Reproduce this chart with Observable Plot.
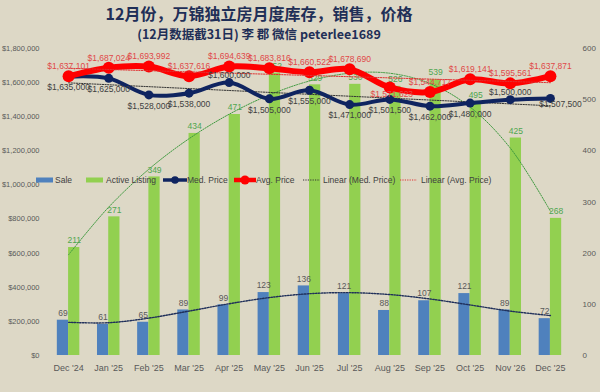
<!DOCTYPE html>
<html>
<head>
<meta charset="utf-8">
<script src="https://cdn.jsdelivr.net/npm/d3@7"></script>
<script src="https://cdn.jsdelivr.net/npm/@observablehq/plot@0.6"></script>
<style>
html,body{margin:0;padding:0;background:#ddd8c6;}
#wrap{position:relative;width:600px;height:392px;overflow:hidden;font-family:"Liberation Sans Narrow","Liberation Sans",Arial,sans-serif;}
#title{position:absolute;left:0;width:518px;top:4px;text-align:center;font-family:"Noto Sans CJK SC",sans-serif;font-weight:bold;font-size:16px;line-height:18px;color:#1f2f57;}
#subtitle{position:absolute;left:0;width:518px;top:27px;text-align:center;font-family:"Noto Sans CJK SC",sans-serif;font-weight:bold;font-size:12.5px;line-height:14px;color:#1f2f57;}
#chart{position:absolute;left:0;top:42px;}
#legend{position:absolute;left:0;top:173px;width:600px;height:14px;font-size:8.5px;color:#404040;}
#legend svg,#legend span{position:absolute;top:0;}
#legend span{line-height:14px;white-space:nowrap;}
</style>
</head>
<body>
<div id="wrap">
  <div id="title">12月份，万锦独立房月度库存，销售，价格</div>
  <div id="subtitle">(12月数据截31日) 李 郡 微信 peterlee1689</div>
  <div id="chart"></div>
  <div id="legend">
    <svg style="left:36px" width="17" height="14"><rect x="0" y="4.5" width="17" height="5" fill="#4f81bd"/></svg>
    <span style="left:55px">Sale</span>
    <svg style="left:86px" width="17" height="14"><rect x="0" y="4.5" width="17" height="5" fill="#92d050"/></svg>
    <span style="left:106px">Active Listing</span>
    <svg style="left:163px" width="24" height="14"><line x1="0" x2="24" y1="7" y2="7" stroke="#0f2460" stroke-width="3.5"/><circle cx="12" cy="7" r="3.8" fill="#0f2460"/></svg>
    <span style="left:187px">Med. Price</span>
    <svg style="left:234px" width="22" height="14"><line x1="0" x2="22" y1="7" y2="7" stroke="#ff0000" stroke-width="4.5"/><circle cx="11" cy="7" r="4.5" fill="#ff0000"/></svg>
    <span style="left:256px">Avg. Price</span>
    <svg style="left:303px" width="17" height="14"><line x1="0" x2="17" y1="7" y2="7" stroke="#333" stroke-width="1" stroke-dasharray="1.2,1.2"/></svg>
    <span style="left:323px">Linear (Med. Price)</span>
    <svg style="left:400px" width="17" height="14"><line x1="0" x2="17" y1="7" y2="7" stroke="#e03030" stroke-width="1" stroke-dasharray="1.2,1.2"/></svg>
    <span style="left:421px">Linear (Avg. Price)</span>
  </div>
</div>
<script>
const months = ["Dec '24","Jan '25","Feb '25","Mar '25","Apr '25","May '25","Jun '25","Jul '25","Aug '25","Sep '25","Oct '25","Nov '26","Dec '25"];
const sales = [69,61,65,89,99,123,136,121,88,107,121,89,72];
const listings = [211,271,349,434,471,552,529,530,526,539,495,425,268];
const medPrice = [1635000,1625000,1528000,1538000,1600000,1505000,1555000,1471000,1501500,1462000,1480000,1500000,1507500];
const avgPrice = [1637101,1687024,1693992,1637616,1694639,1683816,1660522,1678690,1571623,1544717,1619141,1595561,1637871];
const priceTicks = [0,200000,400000,600000,800000,1000000,1200000,1400000,1600000,1800000];
const countTicks = [0,100,200,300,400,500,600];

// Polynomial (order 4) trendlines fitted to the series, as in the original spreadsheet chart
function polyTrend(ys, order) {
  const n = ys.length, c0 = (n - 1) / 2;
  const ts = ys.map((_, i) => i - c0);
  const m = order + 1;
  const A = [];
  for (let r = 0; r < m; r++) {
    const row = [];
    for (let c = 0; c < m; c++) row.push(d3.sum(ts, t => t ** (r + c)));
    row.push(d3.sum(ts, (t, i) => t ** r * ys[i]));
    A.push(row);
  }
  for (let k = 0; k < m; k++) {
    let p = k;
    for (let r = k + 1; r < m; r++) if (Math.abs(A[r][k]) > Math.abs(A[p][k])) p = r;
    [A[k], A[p]] = [A[p], A[k]];
    for (let r = 0; r < m; r++) {
      if (r === k) continue;
      const f = A[r][k] / A[k][k];
      for (let c = k; c <= m; c++) A[r][c] -= f * A[k][c];
    }
  }
  const coef = A.map((row, k) => row[m] / row[k]);
  return ts.map(t => d3.sum(coef, (a, k) => a * t ** k));
}
const saleTrend = polyTrend(sales, 4);
const listTrend = polyTrend(listings, 4);

const rows = months.map((m, i) => ({
  i, month: m, sale: sales[i], listing: listings[i], med: medPrice[i], avg: avgPrice[i],
  saleFit: saleTrend[i], listFit: listTrend[i]
}));
const K = 1800000 / 600; // right-axis counts share the pixel range of the left price axis
const barW = 0.28;
const money = d => "$" + d3.format(",")(d);
const medAbove = new Set(["Apr '25", "Nov '26"]);
const avgBelow = new Set(["Aug '25"]);

const chart = Plot.plot({
  width: 600, height: 350,
  marginTop: 6, marginBottom: 37, marginLeft: 48, marginRight: 30,
  x: {domain: [-0.5, 12.5]},
  y: {domain: [0, 1800000]},
  style: {background: "transparent", fontFamily: "'Liberation Sans Narrow','Liberation Sans',Arial,sans-serif", fontSize: "8.5px", color: "#595959", overflow: "visible"},
  marks: [
    Plot.axisY(priceTicks, {anchor: "left", tickSize: 0, tickPadding: 9, tickFormat: money, fontSize: 7.5, label: null}),
    Plot.axisY(countTicks.map(v => v * K), {anchor: "right", tickSize: 0, tickPadding: 12, tickFormat: d => d / K, fontSize: 8, label: null}),
    Plot.axisX(months.map((m, i) => i), {tickSize: 0, tickPadding: 9, tickFormat: i => months[i], fontSize: 9, label: null}),
    Plot.rect(rows, {x1: d => d.i - barW, x2: d => d.i, y1: 0, y2: d => d.sale * K, fill: "#4f81bd"}),
    Plot.rect(rows, {x1: "i", x2: d => d.i + barW, y1: 0, y2: d => d.listing * K, fill: "#92d050"}),
    Plot.line(rows, {x: "i", y: d => d.listFit * K, stroke: "#3f9a3f", strokeWidth: 1, strokeDasharray: "1.3,1.3", curve: "catmull-rom"}),
    Plot.line(rows, {x: "i", y: d => d.saleFit * K, stroke: "#1f2f5a", strokeWidth: 1.4, strokeDasharray: "1.4,1.4", curve: "catmull-rom"}),
    Plot.text(rows, {x: d => d.i - barW / 2, y: d => d.sale * K, text: "sale", dy: -7, fill: "#595959", fontSize: 8.5}),
    Plot.text(rows, {x: d => d.i + barW / 2, y: d => d.listing * K, text: "listing", dy: -7, fill: "#4fa64f", fontSize: 8.5}),
    Plot.linearRegressionY(rows, {x: "i", y: "med", stroke: "#333", strokeWidth: 1, strokeDasharray: "1.3,1.3", ci: 0}),
    Plot.line(rows, {x: "i", y: "med", stroke: "#0f2460", strokeWidth: 4, curve: "catmull-rom"}),
    Plot.dot(rows, {x: "i", y: "med", r: 4.5, fill: "#0f2460"}),
    Plot.line(rows, {x: "i", y: "avg", stroke: "#ff0000", strokeWidth: 6, curve: "catmull-rom"}),
    Plot.dot(rows, {x: "i", y: "avg", r: 6, fill: "#ff0000"}),
    Plot.linearRegressionY(rows, {x: "i", y: "avg", stroke: "#e03030", strokeWidth: 1, strokeDasharray: "1.3,1.3", ci: 0}),
    Plot.text(rows.filter(d => !medAbove.has(d.month) && d.i !== 12), {x: "i", y: "med", text: d => money(d.med), dy: 11, fill: "#404040", fontSize: 8.5}),
    Plot.text(rows.filter(d => d.i === 12), {x: "i", y: "med", text: d => money(d.med), dy: 6, dx: 10, fill: "#404040", fontSize: 8.5}),
    Plot.text(rows.filter(d => medAbove.has(d.month)), {x: "i", y: "med", text: d => money(d.med), dy: -7, fill: "#404040", fontSize: 8.5}),
    Plot.text(rows.filter(d => !avgBelow.has(d.month)), {x: "i", y: "avg", text: d => money(d.avg), dy: -10, fill: "#e04848", fontSize: 8.5}),
    Plot.text(rows.filter(d => avgBelow.has(d.month)), {x: "i", y: "avg", text: d => money(d.avg), dy: 7, dx: 2, fill: "#e04848", fontSize: 8.5})
  ]
});
document.getElementById("chart").appendChild(chart);
</script>
</body>
</html>
